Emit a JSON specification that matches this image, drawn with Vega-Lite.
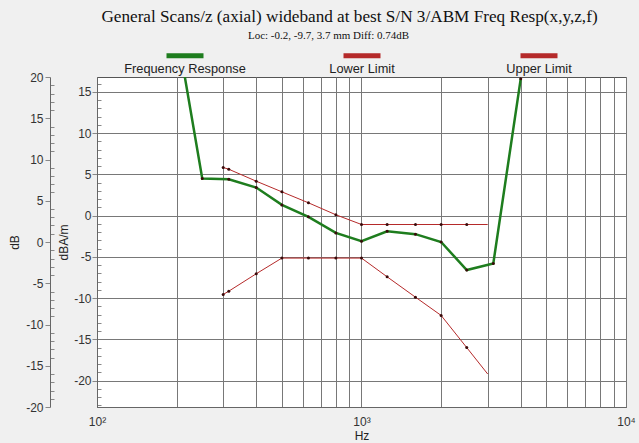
{
  "$schema": "https://vega.github.io/schema/vega-lite/v6.json",
  "width": 529,
  "height": 330,
  "autosize": {"type": "none"},
  "padding": {"left": 97, "top": 77, "right": 13, "bottom": 36},
  "background": "#f0f0f0",
  "config": {
    "view": {"fill": "white", "stroke": "#555", "strokeWidth": 1},
    "font": "Liberation Sans"
  },
  "title": {
    "text": "General Scans/z (axial) wideband at best S/N 3/ABM Freq Resp(x,y,z,f)",
    "font": "Liberation Serif",
    "fontSize": 17.2,
    "fontWeight": "normal",
    "color": "#111",
    "anchor": "middle",
    "frame": "group",
    "dx": -12,
    "offset": 4
  },
  "data": {
    "values": [
      {"series": "Frequency Response", "freq": 200, "value": 22.6},
      {"series": "Frequency Response", "freq": 250, "value": 4.5},
      {"series": "Frequency Response", "freq": 315, "value": 4.4},
      {"series": "Frequency Response", "freq": 400, "value": 3.4},
      {"series": "Frequency Response", "freq": 500, "value": 1.3},
      {"series": "Frequency Response", "freq": 630, "value": -0.15},
      {"series": "Frequency Response", "freq": 800, "value": -2.1},
      {"series": "Frequency Response", "freq": 1000, "value": -3.1},
      {"series": "Frequency Response", "freq": 1250, "value": -1.9},
      {"series": "Frequency Response", "freq": 1600, "value": -2.25},
      {"series": "Frequency Response", "freq": 2000, "value": -3.2},
      {"series": "Frequency Response", "freq": 2500, "value": -6.6},
      {"series": "Frequency Response", "freq": 3150, "value": -5.8},
      {"series": "Frequency Response", "freq": 4000, "value": 16.6},
      {"series": "Lower Limit", "freq": 300, "value": -9.56},
      {"series": "Lower Limit", "freq": 315, "value": -9.16},
      {"series": "Lower Limit", "freq": 400, "value": -7.05},
      {"series": "Lower Limit", "freq": 500, "value": -5.15},
      {"series": "Lower Limit", "freq": 630, "value": -5.15},
      {"series": "Lower Limit", "freq": 800, "value": -5.15},
      {"series": "Lower Limit", "freq": 1000, "value": -5.15},
      {"series": "Lower Limit", "freq": 1250, "value": -7.42},
      {"series": "Lower Limit", "freq": 1600, "value": -9.89},
      {"series": "Lower Limit", "freq": 2000, "value": -12.1},
      {"series": "Lower Limit", "freq": 2500, "value": -16.0},
      {"series": "Lower Limit", "freq": 3000, "value": -19.2},
      {"series": "Upper Limit", "freq": 300, "value": 5.83},
      {"series": "Upper Limit", "freq": 315, "value": 5.62},
      {"series": "Upper Limit", "freq": 400, "value": 4.17},
      {"series": "Upper Limit", "freq": 500, "value": 2.88},
      {"series": "Upper Limit", "freq": 630, "value": 1.55},
      {"series": "Upper Limit", "freq": 800, "value": 0.1},
      {"series": "Upper Limit", "freq": 1000, "value": -1.08},
      {"series": "Upper Limit", "freq": 1250, "value": -1.08},
      {"series": "Upper Limit", "freq": 1600, "value": -1.08},
      {"series": "Upper Limit", "freq": 2000, "value": -1.08},
      {"series": "Upper Limit", "freq": 2500, "value": -1.08},
      {"series": "Upper Limit", "freq": 3000, "value": -1.08}
    ]
  },
  "resolve": {"axis": {"y": "independent", "x": "independent"}},
  "layer": [
    {
      "mark": {"type": "line", "clip": true},
      "encoding": {
        "x": {
          "field": "freq",
          "type": "quantitative",
          "scale": {"type": "log", "domain": [100, 10000], "nice": false},
          "axis": {
            "orient": "bottom",
            "values": [100, 200, 300, 400, 500, 600, 700, 800, 900, 1000, 2000, 3000, 4000, 5000, 6000, 7000, 8000, 9000, 10000],
            "labelExpr": "datum.value == 100 ? '10²' : datum.value == 1000 ? '10³' : datum.value == 10000 ? '10⁴' : ''",
            "ticks": false,
            "grid": true,
            "gridColor": "#787878",
            "domainColor": "#666",
            "labelFlush": false,
            "labelOverlap": false,
            "labelPadding": 9,
            "labelFontSize": 12,
            "labelColor": "#333",
            "title": "Hz",
            "titleFontSize": 12,
            "titleFontWeight": "normal",
            "titleColor": "#222",
            "titlePadding": 3
          }
        },
        "y": {
          "field": "value",
          "type": "quantitative",
          "scale": {"domain": [-23.2, 16.8], "nice": false, "zero": false},
          "axis": {
            "orient": "left",
            "values": [-23, -22, -21, -20, -19, -18, -17, -16, -15, -14, -13, -12, -11, -10, -9, -8, -7, -6, -5, -4, -3, -2, -1, 0, 1, 2, 3, 4, 5, 6, 7, 8, 9, 10, 11, 12, 13, 14, 15, 16],
            "labelExpr": "datum.value % 5 == 0 ? '' + datum.value : ''",
            "tickSize": {"condition": {"test": "datum.value % 5 == 0", "value": 5}, "value": -4},
            "grid": true,
            "gridOpacity": {"condition": {"test": "datum.value % 5 == 0", "value": 1}, "value": 0},
            "gridColor": "#787878",
            "tickColor": "#888",
            "domainColor": "#666",
            "labelOverlap": false,
            "labelFontSize": 12,
            "labelColor": "#333",
            "labelPadding": 1,
            "title": "dBA/m",
            "titleFontSize": 12,
            "titleFontWeight": "normal",
            "titleColor": "#222",
            "titlePadding": 3
          }
        },
        "color": {
          "field": "series",
          "type": "nominal",
          "scale": {
            "domain": ["Frequency Response", "Lower Limit", "Upper Limit"],
            "range": ["#1e7d1e", "#b52a2a", "#b52a2a"]
          },
          "legend": {
            "orient": "none",
            "legendX": 80.5,
            "legendY": -16,
            "direction": "horizontal",
            "columns": 3,
            "title": null,
            "symbolType": "M-15.7,0M15.7,0M-3.7,-2.6L3.7,-2.6",
            "symbolSize": 100,
            "symbolStrokeWidth": 5,
            "labelAlign": "center",
            "labelOffset": -7.5,
            "labelFontSize": 12.8,
            "labelColor": "#222",
            "columnPadding": 0,
            "padding": 0
          }
        },
        "strokeWidth": {
          "condition": {"test": "datum.series == 'Frequency Response'", "value": 2.5},
          "value": 1
        }
      }
    },
    {
      "transform": [{"filter": "datum.freq < 3000 || datum.series == 'Frequency Response'"}],
      "mark": {"type": "point", "filled": true, "clip": true, "size": 9, "color": "#3a0a0a", "opacity": 1},
      "encoding": {
        "x": {
          "field": "freq",
          "type": "quantitative",
          "axis": {
            "orient": "top",
            "domain": false,
            "ticks": false,
            "labels": false,
            "grid": false,
            "title": "Loc: -0.2, -9.7, 3.7 mm Diff: 0.74dB",
            "titleFont": "Liberation Serif",
            "titleFontSize": 11,
            "titleFontWeight": "normal",
            "titleColor": "#111",
            "titleAlign": "center",
            "titleBaseline": "middle",
            "titleX": 231,
            "titleY": -42
          }
        },
        "y": {
          "field": "value",
          "type": "quantitative",
          "axis": {
            "orient": "left",
            "offset": 47,
            "values": [-23.2, -22.2, -21.2, -20.2, -19.2, -18.2, -17.2, -16.2, -15.2, -14.2, -13.2, -12.2, -11.2, -10.2, -9.2, -8.2, -7.2, -6.2, -5.2, -4.2, -3.2, -2.2, -1.2, -0.2, 0.8, 1.8, 2.8, 3.8, 4.8, 5.8, 6.8, 7.8, 8.8, 9.8, 10.8, 11.8, 12.8, 13.8, 14.8, 15.8, 16.8],
            "labelExpr": "round(datum.value + 3.2) % 5 == 0 ? '' + round(datum.value + 3.2) : ''",
            "tickSize": {"condition": {"test": "round(datum.value + 3.2) % 5 == 0", "value": 5}, "value": -4},
            "grid": false,
            "tickColor": "#888",
            "domainColor": "#666",
            "labelOverlap": false,
            "labelFontSize": 12,
            "labelColor": "#333",
            "labelPadding": 2,
            "title": "dB",
            "titleFontSize": 12,
            "titleFontWeight": "normal",
            "titleColor": "#222",
            "titlePadding": 4
          }
        }
      }
    }
  ]
}
